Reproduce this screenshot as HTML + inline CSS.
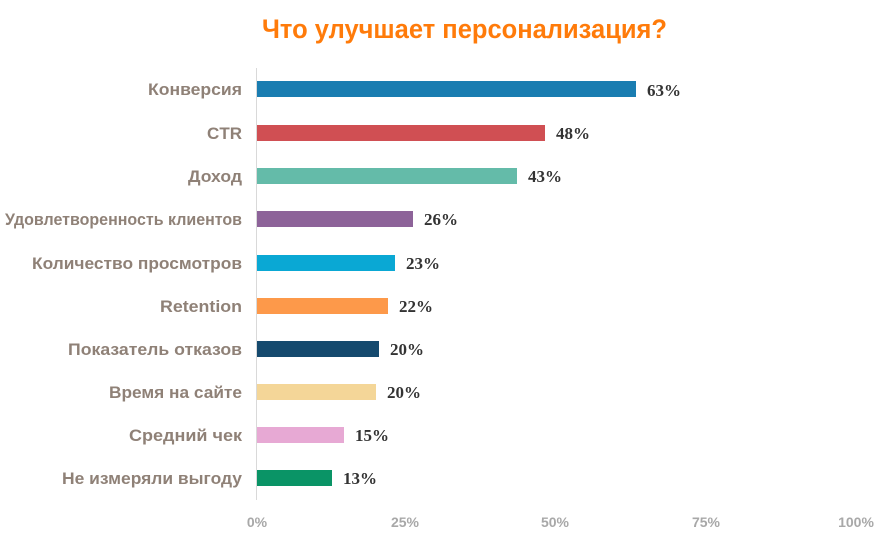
<!DOCTYPE html>
<html><head><meta charset="utf-8"><style>body{margin:0;background:#fff}</style></head>
<body>
<svg width="884" height="539" xmlns="http://www.w3.org/2000/svg" font-family="Liberation Sans, sans-serif">
<text x="262" y="38" font-size="27" font-weight="bold" fill="#ff7b0a" textLength="405" lengthAdjust="spacingAndGlyphs">Что улучшает персонализация?</text>
<line x1="256.5" y1="68" x2="256.5" y2="500" stroke="#d9d9d9" stroke-width="1"/>
<g font-size="17" font-weight="bold" fill="#8f8177" text-anchor="end">
<text x="242" y="95" textLength="94" lengthAdjust="spacingAndGlyphs">Конверсия</text>
<text x="242" y="139">CTR</text>
<text x="242" y="182" textLength="54" lengthAdjust="spacingAndGlyphs">Доход</text>
<text x="242" y="225" textLength="237" lengthAdjust="spacingAndGlyphs">Удовлетворенность клиентов</text>
<text x="242" y="269" textLength="210" lengthAdjust="spacingAndGlyphs">Количество просмотров</text>
<text x="242" y="312" textLength="82" lengthAdjust="spacingAndGlyphs">Retention</text>
<text x="242" y="355" textLength="174" lengthAdjust="spacingAndGlyphs">Показатель отказов</text>
<text x="242" y="398" textLength="133" lengthAdjust="spacingAndGlyphs">Время на сайте</text>
<text x="242" y="441" textLength="113" lengthAdjust="spacingAndGlyphs">Средний чек</text>
<text x="242" y="484" textLength="180" lengthAdjust="spacingAndGlyphs">Не измеряли выгоду</text>
</g>
<g>
<rect x="257" y="81" width="379" height="16" fill="#1a7db1"/>
<rect x="257" y="125" width="288" height="16" fill="#d04f53"/>
<rect x="257" y="168" width="260" height="16" fill="#64bba9"/>
<rect x="257" y="211" width="156" height="16" fill="#8d6399"/>
<rect x="257" y="255" width="138" height="16" fill="#0aa8d4"/>
<rect x="257" y="298" width="131" height="16" fill="#fd994a"/>
<rect x="257" y="341" width="122" height="16" fill="#154a6e"/>
<rect x="257" y="384" width="119" height="16" fill="#f4d698"/>
<rect x="257" y="427" width="87" height="16" fill="#e7a9d4"/>
<rect x="257" y="470" width="75" height="16" fill="#0a9466"/>
</g>
<g font-family="Liberation Serif, serif" font-size="17" font-weight="bold" fill="#333">
<text x="647" y="96">63%</text>
<text x="556" y="139">48%</text>
<text x="528" y="182">43%</text>
<text x="424" y="225">26%</text>
<text x="406" y="269">23%</text>
<text x="399" y="312">22%</text>
<text x="390" y="355">20%</text>
<text x="387" y="398">20%</text>
<text x="355" y="441">15%</text>
<text x="343" y="484">13%</text>
</g>
<g font-size="14" font-weight="bold" fill="#a8a8a8" text-anchor="middle">
<text x="257" y="527">0%</text>
<text x="405" y="527">25%</text>
<text x="555" y="527">50%</text>
<text x="706" y="527">75%</text>
<text x="856" y="527">100%</text>
</g>
</svg>
</body></html>
